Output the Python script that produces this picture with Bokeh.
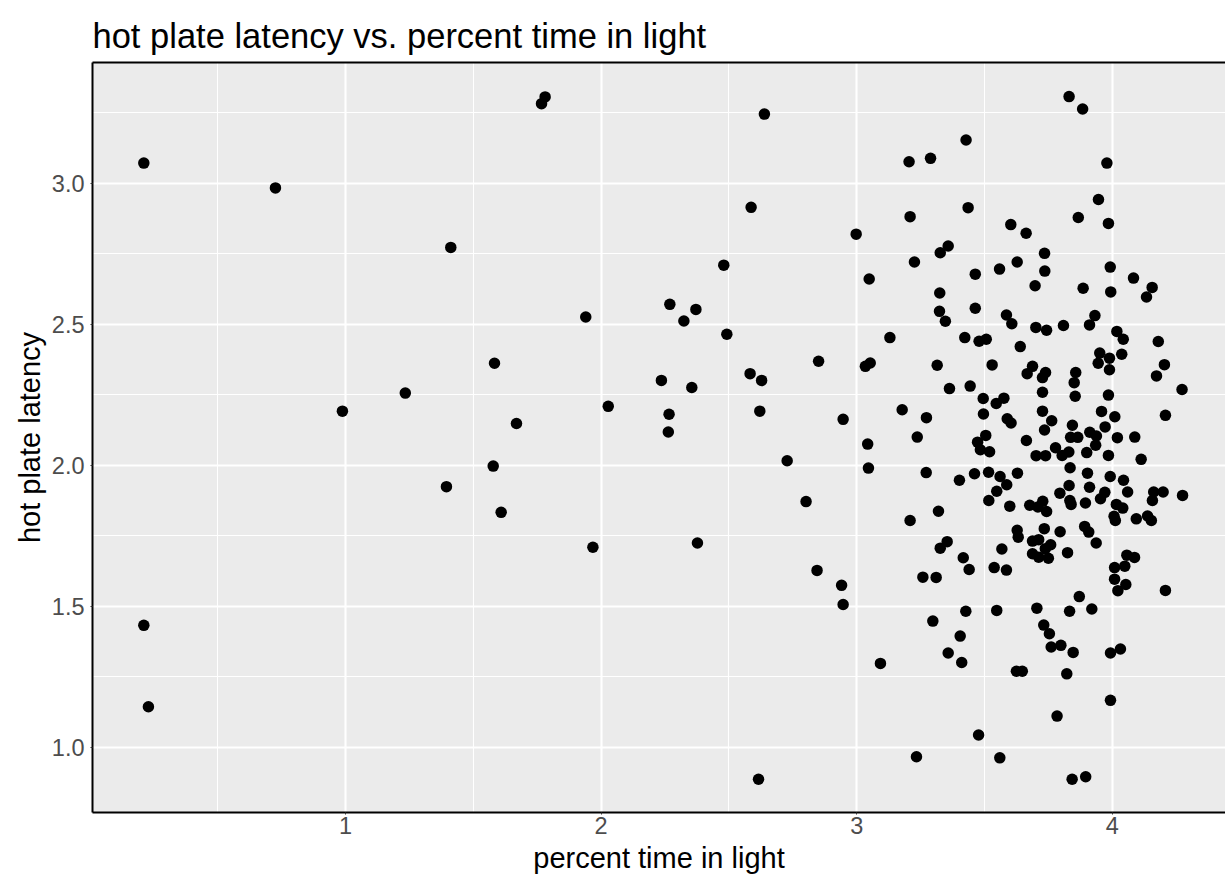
from bokeh.plotting import figure
from bokeh.models import FixedTicker, PrintfTickFormatter, LinearAxis, ColumnDataSource
from bokeh.embed import file_html
from bokeh.resources import INLINE

# percent time in light (x) and hot plate latency (y)
pct_light = [
    0.211, 0.726, 1.412, 1.234, 0.988, 1.395, 0.211, 0.229, 1.767, 1.781,
    2.639, 2.587, 2.480, 1.940, 2.269, 2.371, 2.324, 2.492, 1.583, 2.236,
    2.355, 2.583, 2.628, 2.851, 2.028, 2.266, 2.621, 1.669, 2.947, 2.263,
    1.578, 1.609, 1.968, 2.377, 2.728, 2.802, 2.845, 2.941, 2.947, 2.616,
    3.428, 3.205, 3.289, 3.209, 3.436, 2.998, 3.603, 3.663, 3.358, 3.327,
    3.226, 3.628, 3.831, 3.884, 3.979, 3.946, 3.867, 3.985, 3.735,
    3.049, 3.464, 3.559, 3.698, 3.325, 3.324, 3.347, 3.464, 3.586, 3.607,
    3.130, 3.423, 3.479, 3.507, 3.640, 3.034, 3.053, 3.315, 3.530, 3.363,
    3.444, 3.495, 3.546, 3.576, 3.178, 3.273, 3.496, 3.589, 3.604, 3.237,
    3.043, 3.505, 3.473, 3.484, 3.520, 3.664,
    3.736, 3.992, 3.886, 3.994, 4.083, 4.156, 4.134, 3.932, 3.911, 3.701,
    3.743, 3.809, 4.018, 4.043, 4.180, 3.951, 3.989, 4.037, 3.945, 3.989,
    4.204, 4.173, 3.688, 3.667, 3.739, 3.727, 3.857, 3.851, 3.727, 3.855,
    3.985, 4.273, 3.727, 3.763, 3.958, 4.010, 4.208, 3.735, 3.844, 3.972,
    3.912, 3.938,
    3.837, 3.865, 3.702, 3.739, 3.778, 3.804, 3.830, 3.900, 3.935, 3.985,
    4.113, 4.020, 4.088, 3.835, 3.629, 3.903, 3.992, 4.044, 3.831, 3.795,
    3.911, 3.971, 3.954, 4.060, 4.162, 4.199, 4.157, 4.275, 3.834, 3.839,
    3.895, 3.677, 3.709, 3.728, 3.743, 4.016, 4.041, 4.007, 4.012, 4.094,
    4.138, 4.153, 3.734, 3.796, 3.892, 3.908, 3.937, 3.628, 3.632, 3.688,
    3.712, 3.759, 3.688, 3.712, 3.750, 3.738, 3.825, 4.057, 4.087, 4.049,
    4.009, 4.009, 4.053, 4.022, 4.208, 3.871, 3.705, 3.833, 3.920,
    3.046, 3.272, 3.402, 3.461, 3.516, 3.561, 3.587, 3.548, 3.517, 3.599,
    3.320, 3.209, 3.354, 3.327, 3.568, 3.417, 3.440, 3.538, 3.586, 3.259,
    3.311, 3.427, 3.548,
    3.298, 3.405, 3.358, 3.411, 3.093, 3.625, 3.648, 3.477, 3.234, 3.560,
    3.732, 3.754, 3.761, 3.799, 3.847, 3.993, 4.032, 3.822, 3.993, 3.784,
    3.843, 3.896,
]

hot_plate = [
    3.072, 2.984, 2.773, 2.256, 2.192, 1.924, 1.432, 1.143, 3.283, 3.307,
    3.246, 2.915, 2.710, 2.526, 2.571, 2.553, 2.512, 2.465, 2.362, 2.301,
    2.276, 2.325, 2.301, 2.369, 2.209, 2.181, 2.192, 2.148, 2.163, 2.118,
    1.997, 1.833, 1.709, 1.724, 2.016, 1.871, 1.627, 1.574, 1.506, 0.886,
    3.154, 3.077, 3.089, 2.882, 2.914, 2.820, 2.854, 2.823, 2.778, 2.754,
    2.721, 2.721, 3.308, 3.264, 3.072, 2.943, 2.879, 2.858, 2.752,
    2.661, 2.678, 2.696, 2.637, 2.611, 2.546, 2.511, 2.557, 2.533, 2.502,
    2.453, 2.453, 2.440, 2.447, 2.421, 2.351, 2.363, 2.355, 2.356, 2.272,
    2.281, 2.237, 2.219, 2.238, 2.197, 2.169, 2.182, 2.165, 2.150, 2.100,
    2.075, 2.106, 2.082, 2.055, 2.048, 2.088,
    2.689, 2.703, 2.628, 2.615, 2.664, 2.631, 2.597, 2.531, 2.498, 2.489,
    2.479, 2.496, 2.475, 2.447, 2.439, 2.398, 2.380, 2.394, 2.362, 2.339,
    2.357, 2.317, 2.351, 2.325, 2.329, 2.311, 2.329, 2.293, 2.259, 2.245,
    2.249, 2.269, 2.192, 2.158, 2.191, 2.172, 2.177, 2.125, 2.142, 2.136,
    2.117, 2.104,
    2.099, 2.099, 2.034, 2.034, 2.062, 2.035, 2.047, 2.045, 2.071, 2.035,
    2.021, 2.098, 2.100, 1.991, 1.972, 1.972, 1.960, 1.947, 1.928, 1.901,
    1.922, 1.904, 1.881, 1.905, 1.905, 1.905, 1.875, 1.893, 1.875, 1.861,
    1.866, 1.858, 1.852, 1.872, 1.836, 1.861, 1.848, 1.819, 1.804, 1.810,
    1.820, 1.804, 1.775, 1.764, 1.783, 1.763, 1.724, 1.769, 1.745, 1.731,
    1.736, 1.718, 1.686, 1.674, 1.670, 1.704, 1.690, 1.681, 1.673, 1.642,
    1.637, 1.596, 1.577, 1.555, 1.556, 1.534, 1.493, 1.482, 1.490,
    1.990, 1.974, 1.947, 1.970, 1.975, 1.960, 1.931, 1.908, 1.875, 1.855,
    1.837, 1.804, 1.729, 1.706, 1.703, 1.672, 1.630, 1.637, 1.628, 1.603,
    1.602, 1.482, 1.485,
    1.447, 1.394, 1.334, 1.300, 1.297, 1.269, 1.269, 1.043, 0.966, 0.962,
    1.433, 1.402, 1.355, 1.361, 1.336, 1.334, 1.348, 1.260, 1.166, 1.110,
    0.886, 0.895,
]

x_ticks = [1, 2, 3, 4]
x_minor = [0.5, 1.5, 2.5, 3.5]
y_ticks = [1.0, 1.5, 2.0, 2.5, 3.0]
y_minor = [0.75, 1.25, 1.75, 2.25, 2.75, 3.25]

title_text = "hot plate latency vs. percent time in light"
x_title = "percent time in light"
y_title = "hot plate latency"

src = ColumnDataSource(data=dict(x=pct_light, y=hot_plate))

FONT = "Liberation Sans"

p = figure(width=1225, height=882, output_backend="svg", toolbar_location=None,
           x_range=(0.0102, 4.443), y_range=(0.768, 3.429),
           min_border_left=92, min_border_right=0, min_border_top=62, min_border_bottom=70,
           title=title_text)

p.background_fill_color = "#EBEBEB"
p.border_fill_color = "white"
p.outline_line_color = None

p.title.text_font = FONT
p.title.text_font_size = "34.5px"
p.title.text_font_style = "normal"
p.title.text_color = "black"
p.title.align = "left"
p.title.standoff = 16
p.title.offset = 0

xax = p.below[0]
yax = p.left[0]

xt = FixedTicker(ticks=x_ticks, minor_ticks=x_minor)
yt = FixedTicker(ticks=y_ticks, minor_ticks=y_minor)
xax.ticker = xt
yax.ticker = yt
p.xgrid[0].ticker = xt
p.ygrid[0].ticker = yt
xax.formatter = PrintfTickFormatter(format="%d")
yax.formatter = PrintfTickFormatter(format="%.1f")

for ax in (xax, yax):
    ax.axis_line_color = "black"
    ax.axis_line_width = 2
    ax.major_tick_line_color = "#333333"
    ax.major_tick_out = 2
    ax.major_tick_in = 0
    ax.minor_tick_out = 0
    ax.minor_tick_in = 0
    ax.major_label_text_font = FONT
    ax.major_label_text_font_size = "23.5px"
    ax.major_label_text_color = "#4D4D4D"
    ax.axis_label_text_font = FONT
    ax.axis_label_text_font_size = "29px"
    ax.axis_label_text_font_style = "normal"
    ax.axis_label_text_color = "black"

xax.axis_label = x_title
yax.axis_label = y_title
xax.major_label_standoff = 2
xax.axis_label_standoff = 5
yax.major_label_standoff = 6
yax.axis_label_standoff = 3

# top border line of the panel
top_axis = LinearAxis(ticker=FixedTicker(ticks=[]), major_label_text_font_size="0px",
                      major_tick_out=0, major_tick_in=0, minor_tick_out=0, minor_tick_in=0,
                      axis_line_color="black", axis_line_width=2, major_label_standoff=0,
                      axis_label=None)
p.add_layout(top_axis, "above")

for g in (p.xgrid[0], p.ygrid[0]):
    g.grid_line_color = "white"
    g.grid_line_width = 2.1
    g.minor_grid_line_color = "white"
    g.minor_grid_line_width = 1.1

p.scatter("x", "y", source=src, size=11.5, fill_color="black", line_color=None)

open("out.html", "w").write(file_html(p, INLINE))
